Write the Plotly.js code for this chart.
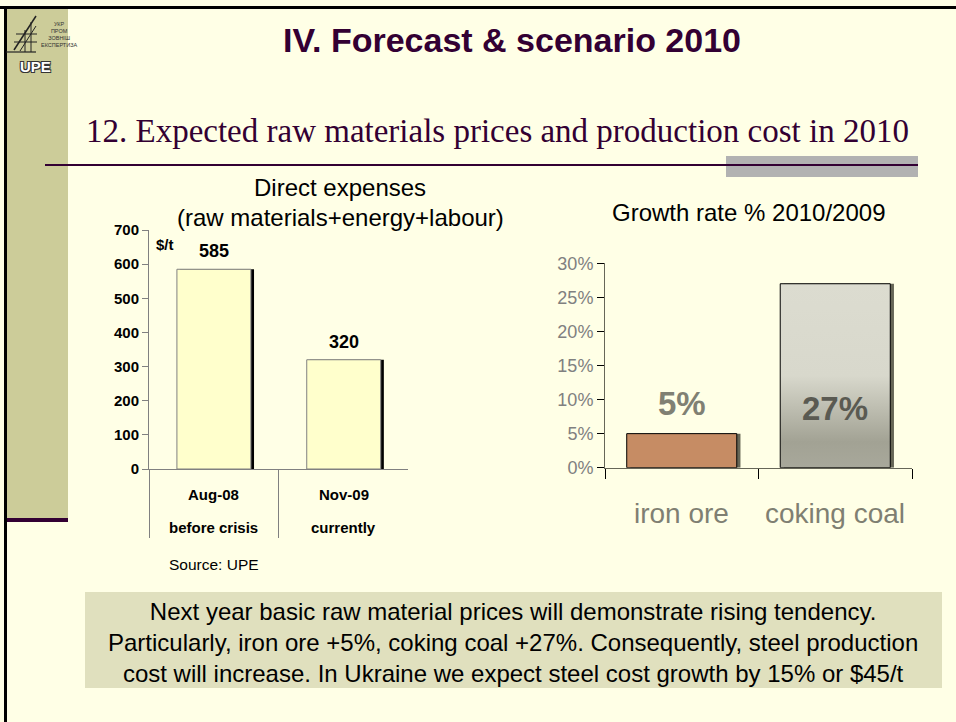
<!DOCTYPE html>
<html>
<head>
<meta charset="utf-8">
<script src="https://cdn.plot.ly/plotly-3.0.1.min.js"></script>
<style>
  html, body { margin: 0; padding: 0; background: #FFFFE6; }
  #chart { width: 956px; height: 722px; }
</style>
</head>
<body>
<div id="chart"></div>
<script>
// ---- data ----
const leftCategories = ['Aug-08', 'Nov-09'];
const leftSubLabels = ['before crisis', 'currently'];
const leftValues = [585, 320];
const rightCategories = ['iron ore', 'coking coal'];
const rightValues = [5, 27];
const rightColors = ['#C68C64', '#D9D9CD'];

const slideTitle = 'IV. Forecast &amp; scenario 2010';
const slideSubtitle = '12. Expected raw materials prices and production cost in 2010';
const leftTitle1 = 'Direct expenses';
const leftTitle2 = '(raw materials+energy+labour)';
const rightTitle = 'Growth rate % 2010/2009';
const unitLabel = '$/t';
const sourceLabel = 'Source: UPE';
const boxLines = [
  'Next year basic raw material prices will demonstrate rising tendency.',
  'Particularly, iron ore +5%, coking coal +27%. Consequently, steel production',
  'cost will increase. In Ukraine we expect steel cost growth by 15% or $45/t'
];

// ---- helpers (pixel -> paper) ----
const W = 956, H = 722;
const px = x => x / W;
const py = y => 1 - y / H;
const SANS = 'Liberation Sans, Arial, sans-serif';
const SERIF = 'Liberation Serif, Times New Roman, serif';

const LBW = 0.57, RBW = 0.717;

const traces = [
  { type: 'bar', name: 'left-shadow', x: leftCategories, y: leftValues, xaxis: 'x', yaxis: 'y',
    width: LBW, offset: -LBW / 2 + 0.024, marker: { color: '#000000', line: { width: 0 } },
    hoverinfo: 'skip', showlegend: false },
  { type: 'bar', name: 'left-main', x: leftCategories, y: leftValues, xaxis: 'x', yaxis: 'y',
    width: LBW, offset: -LBW / 2, marker: { color: '#FFFFCC', line: { color: '#808080', width: 1 } },
    showlegend: false },
  { type: 'bar', name: 'right-shadow', x: rightCategories, y: rightValues, xaxis: 'x2', yaxis: 'y2',
    width: RBW, offset: -RBW / 2 + 0.024, marker: { color: '#666656', line: { width: 0 } },
    hoverinfo: 'skip', showlegend: false },
  { type: 'bar', name: 'right-main', x: rightCategories, y: rightValues, xaxis: 'x2', yaxis: 'y2',
    width: RBW, offset: -RBW / 2, marker: { color: rightColors, line: { color: '#000000', width: 1 } },
    showlegend: false }
];

const annotations = [];
function txt(x, y, text, size, opts) {
  annotations.push(Object.assign({
    xref: 'paper', yref: 'paper', x: px(x), y: py(y), text: text, showarrow: false,
    xanchor: 'center', yanchor: 'middle',
    font: { family: SANS, size: size, color: '#000000' }
  }, opts || {}));
}

// slide texts
txt(512, 40, '<b>' + slideTitle + '</b>', 34, { font: { family: SANS, size: 34, color: '#330033' } });
txt(497, 131, slideSubtitle, 33, { font: { family: SERIF, size: 33, color: '#330033' } });
// chart titles
txt(340, 187, leftTitle1, 24);
txt(340, 217, leftTitle2, 24);
txt(749, 213, rightTitle, 24);
txt(165, 245, '<b>' + unitLabel + '</b>', 15);
txt(167, 564, sourceLabel, 15.5, { xanchor: 'left' });

// left value labels
leftCategories.forEach((c, i) => {
  annotations.push({ xref: 'x', yref: 'y', x: c, y: leftValues[i], text: '<b>' + leftValues[i] + '</b>',
    showarrow: false, yanchor: 'middle', yshift: 18, font: { family: SANS, size: 18, color: '#000' } });
  annotations.push({ xref: 'x', yref: 'paper', x: c, y: py(494), text: '<b>' + c + '</b>',
    showarrow: false, yanchor: 'middle', font: { family: SANS, size: 15, color: '#000' } });
  annotations.push({ xref: 'x', yref: 'paper', x: c, y: py(527), text: '<b>' + leftSubLabels[i] + '</b>',
    showarrow: false, yanchor: 'middle', font: { family: SANS, size: 15, color: '#000' } });
});
// right value labels & categories
rightCategories.forEach((c, i) => {
  annotations.push({ xref: 'x2', yref: 'y2', x: c, y: rightValues[i], text: '<b>' + rightValues[i] + '%</b>',
    showarrow: false, yanchor: 'middle', yshift: i === 0 ? 30 : -125,
    font: { family: SANS, size: 33, color: i === 0 ? '#808073' : '#5A5A52' } });
  annotations.push({ xref: 'x2', yref: 'paper', x: c, y: py(513), text: c,
    showarrow: false, yanchor: 'middle', font: { family: SANS, size: 28, color: '#7F7F72' } });
});
// bottom box text
txt(513, 642, boxLines.join('<br>'), 24);

// logo
txt(35, 66, '<b>UPE</b>', 15, { font: { family: SANS, size: 15, color: '#FFFFFF',
  shadow: '1px 1px 0 #333, -1px -1px 0 #333, 1px -1px 0 #333, -1px 1px 0 #333' } });
txt(39, 35, 'УКР<br>ПРОМ<br>ЗОВНІШ<br>ЕКСПЕРТИЗА', 5.5, { xanchor: 'left',
  font: { family: SANS, size: 5.5, color: '#333' } });

function rect(x0, y0, x1, y1, color, layer) {
  return { type: 'rect', xref: 'paper', yref: 'paper', x0: px(x0), x1: px(x1), y0: py(y0), y1: py(y1),
    fillcolor: color, line: { width: 0 }, layer: layer || 'below' };
}
function line(x0, y0, x1, y1, color, w) {
  return { type: 'line', xref: 'paper', yref: 'paper', x0: px(x0), x1: px(x1), y0: py(y0), y1: py(y1),
    line: { color: color, width: w }, layer: 'above' };
}

const shapes = [
  rect(7, 9, 68, 518, '#CCCC99'),
  rect(7, 518, 68, 522, '#330033'),
  rect(0, 6, 956, 9, '#000000'),
  rect(4, 6, 7, 722, '#000000'),
  rect(726, 156, 918, 177, '#B2B2B2'),
  rect(45, 164, 918, 166, '#330033'),
  rect(85, 592, 942, 688, '#E0E0BE'),
  // logo strokes
  line(6, 52, 36, 52, '#222', 1.2),
  line(14, 50, 36, 16, '#222', 1.5),
  line(20, 51, 36, 26, '#222', 1),
  line(16, 34, 37, 34, '#222', 1),
  line(14, 42, 37, 42, '#222', 1),
  line(25, 30, 25, 52, '#222', 1),
  line(31, 22, 31, 52, '#222', 1)
];

const layout = {
  width: W, height: H,
  margin: { l: 0, r: 0, t: 0, b: 0 },
  paper_bgcolor: '#FFFFE6', plot_bgcolor: 'rgba(0,0,0,0)',
  barmode: 'overlay', showlegend: false,
  xaxis: {
    domain: [px(149), px(408)], anchor: 'y', type: 'category', range: [-0.5, 1.495],
    showline: true, linecolor: '#808080', linewidth: 1,
    ticks: 'outside', tickson: 'boundaries', ticklen: 68, tickcolor: '#808080', tickwidth: 1,
    showticklabels: false, showgrid: false, zeroline: false, fixedrange: true
  },
  yaxis: {
    domain: [py(469), py(230)], anchor: 'x', range: [0, 700], dtick: 100,
    showline: true, linecolor: '#808080', linewidth: 1,
    ticks: 'outside', ticklen: 6, tickcolor: '#808080',
    tickfont: { family: SANS, size: 15, color: '#000', weight: 700 },
    showgrid: false, zeroline: false, fixedrange: true
  },
  xaxis2: {
    domain: [px(605), px(912)], anchor: 'y2', type: 'category', range: [-0.5, 1.5],
    showline: true, linecolor: '#666658', linewidth: 1,
    ticks: 'outside', tickson: 'boundaries', ticklen: 10, tickcolor: '#000', tickwidth: 1,
    showticklabels: false, showgrid: false, zeroline: false, fixedrange: true
  },
  yaxis2: {
    domain: [py(467.7), py(263.3)], anchor: 'x2', range: [0, 30], dtick: 5, ticksuffix: '%',
    showline: true, linecolor: '#666658', linewidth: 1,
    ticks: 'outside', ticklen: 7, tickcolor: '#000',
    tickfont: { family: SANS, size: 18, color: '#808080' },
    showgrid: false, zeroline: false, fixedrange: true
  },
  annotations: annotations,
  shapes: shapes
};

Plotly.newPlot('chart', traces, layout, { staticPlot: true, displayModeBar: false }).then(gd => {
  const defs = gd.querySelector('svg.main-svg defs');
  const ns = 'http://www.w3.org/2000/svg';
  if (defs) {
    const g = document.createElementNS(ns, 'linearGradient');
    g.setAttribute('id', 'coalGrad');
    g.setAttribute('x1', '0'); g.setAttribute('y1', '0');
    g.setAttribute('x2', '0'); g.setAttribute('y2', '1');
    [['0', '#DCDCD0'], ['0.5', '#D8D8CC'], ['0.68', '#BDBDB0'], ['0.86', '#A2A294'], ['1', '#A8A89B']].forEach(s => {
      const st = document.createElementNS(ns, 'stop');
      st.setAttribute('offset', s[0]); st.setAttribute('stop-color', s[1]);
      g.appendChild(st);
    });
    defs.appendChild(g);
  }
  gd.querySelectorAll('.barlayer .trace').forEach(tr => {
    const d = tr.__data__;
    if (d && d[0] && d[0].trace && d[0].trace.name === 'right-main') {
      const pts = tr.querySelectorAll('.point path');
      if (pts[1]) pts[1].style.fill = 'url(#coalGrad)';
    }
  });
});
</script>
</body>
</html>
